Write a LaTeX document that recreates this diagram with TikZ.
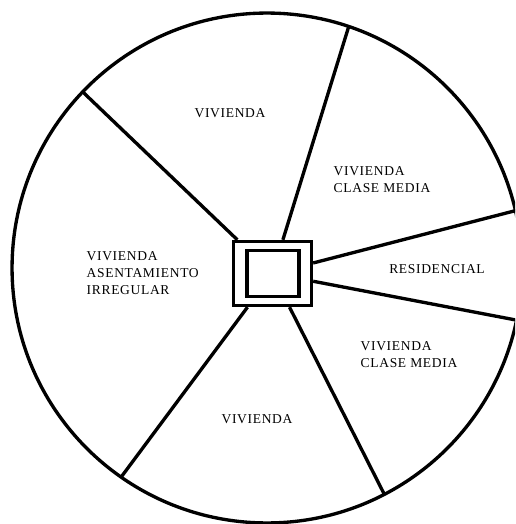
\documentclass[tikz,border=0pt]{standalone}
\usepackage{fontspec}
\setmainfont{Liberation Serif}[LetterSpace=5]
\usetikzlibrary{calc}

\begin{document}
\begin{tikzpicture}[x=0.02cm, y=-0.02cm, line width=1.9pt,
        etiqueta/.style={font=\fontsize{7.7}{9.7}\selectfont, inner sep=0pt, align=left}]
        \useasboundingbox (0,0) rectangle (515,524);
        \clip (0,0) rectangle (515,524);

        % Coordinates
        \coordinate (O) at (267, 268);
        \coordinate (A) at ($(O)+(136.3:5.1cm)$);
        \coordinate (B) at ($(O)+(71.3:5.1cm)$);
        \coordinate (C) at ($(O)+(13:5.1cm)$);
        \coordinate (D) at ($(O)+(-11.8:5.1cm)$);
        \coordinate (E) at ($(O)+(-62.6:5.1cm)$);
        \coordinate (F) at ($(O)+(-124.9:5.1cm)$);

        % Drawing
        \draw (O) circle[radius=5.1cm];
        \node[draw, minimum width=1.56cm, minimum height=1.28cm] (plaza) at (272.5, 273.5) {};
        \node[draw, line width=2.1pt, minimum width=1.04cm, minimum height=0.92cm] (kiosco) at (273, 273.5) {};
        \draw (plaza) -- (A);
        \draw (plaza) -- (B);
        \draw (plaza) -- (C);
        \draw (plaza) -- (D);
        \draw (plaza) -- (E);
        \draw (plaza) -- (F);

        % Labels
        \node[etiqueta] (vivN) at (230, 113) {VIVIENDA};
        \node[etiqueta, anchor=west] (medNE) at (332, 180) {VIVIENDA\\CLASE MEDIA};
        \node[etiqueta] (resE) at (437, 269) {RESIDENCIAL};
        \node[etiqueta, anchor=west] (medSE) at (359, 355) {VIVIENDA\\CLASE MEDIA};
        \node[etiqueta] (vivS) at (257, 419) {VIVIENDA};
        \node[etiqueta, anchor=west] (irrW) at (85, 273) {VIVIENDA\\ASENTAMIENTO\\IRREGULAR};
\end{tikzpicture}
\end{document}
